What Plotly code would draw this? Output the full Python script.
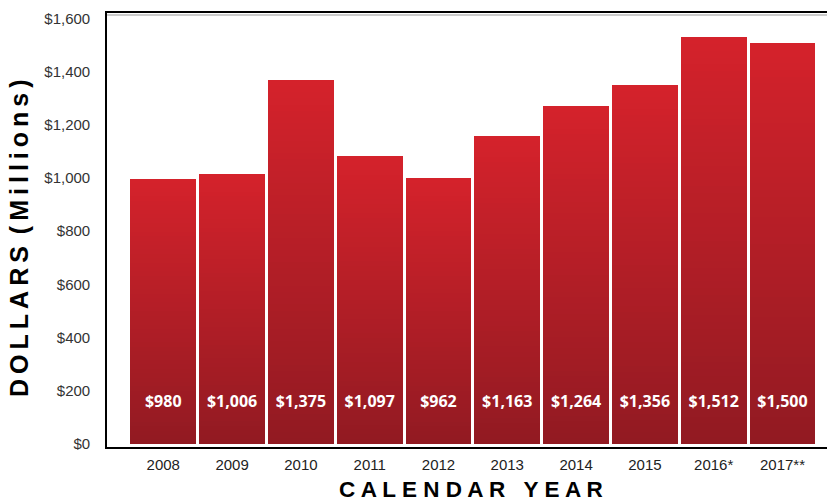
import plotly.graph_objects as go

years = ["2008", "2009", "2010", "2011", "2012", "2013", "2014", "2015", "2016*", "2017**"]
bar_heights = [997, 1016, 1367, 1084, 998, 1157, 1270, 1348, 1529, 1506]
value_labels = ["$980", "$1,006", "$1,375", "$1,097", "$962", "$1,163", "$1,264", "$1,356", "$1,512", "$1,500"]
y_tick_vals = [0, 200, 400, 600, 800, 1000, 1200, 1400, 1600]
y_tick_text = ["$0", "$200", "$400", "$600", "$800", "$1,000", "$1,200", "$1,400", "$1,600"]

TOP = (212, 34, 43)
BOTTOM = (146, 26, 34)
N = 60

x_idx = list(range(len(years)))
fig = go.Figure()
for k in range(N):
    t = k / (N - 1)  # 0 bottom -> 1 top
    c = tuple(round(BOTTOM[i] + (TOP[i] - BOTTOM[i]) * t) for i in range(3))
    fig.add_trace(go.Bar(
        x=x_idx, y=[h / N for h in bar_heights],
        marker=dict(color="rgb(%d,%d,%d)" % c, line=dict(width=0)),
        width=0.955, hoverinfo="skip", showlegend=False,
    ))

fig.add_trace(go.Scatter(
    x=x_idx, y=[152] * len(years), mode="text", text=value_labels,
    textfont=dict(family="Open Sans", size=16, color="white", weight="bold"),
    hoverinfo="skip", showlegend=False,
))

fig.update_layout(
    barmode="stack", bargap=0,
    width=827, height=504,
    margin=dict(l=107, r=0, t=13, b=57),
    paper_bgcolor="white", plot_bgcolor="white",
    xaxis=dict(
        range=[-0.818, 9.647], tickvals=x_idx, ticktext=years,
        showline=True, linecolor="black", linewidth=1.6, mirror=True,
        showgrid=False, zeroline=False, ticks="",
        tickfont=dict(family="Liberation Sans", size=15, color="#222"),
        ticklabelstandoff=3,
    ),
    yaxis=dict(
        range=[-12, 1620], tickvals=y_tick_vals, ticktext=y_tick_text,
        showline=True, linecolor="black", linewidth=1.6,
        showgrid=False, zeroline=False, ticks="",
        tickfont=dict(family="Liberation Sans", size=15, color="#333"),
        ticklabelstandoff=12,
    ),
    annotations=[
        dict(text="D\u2009O\u2009L\u2009L\u2009A\u2009R\u2009S\u2009 (\u2009M\u2009i\u2009l\u2009l\u2009i\u2009o\u2009n\u2009s\u2009)",
             xref="paper", yref="paper", x=0, y=0.4816, xshift=-88,
             xanchor="center", yanchor="middle", textangle=-90, showarrow=False,
             font=dict(family="Liberation Sans", size=25, color="black", weight="bold")),
        dict(text="C A L E N D A R   Y E A R",
             xref="paper", yref="paper", x=0.5058, y=-0.099,
             xanchor="center", yanchor="middle", showarrow=False,
             font=dict(family="Liberation Sans", size=22.5, color="black", weight="bold")),
    ],
    shapes=[
        dict(type="line", xref="paper", yref="paper", x0=0, x1=1,
             ysizemode="pixel", yanchor=1, y0=-2, y1=-2,
             line=dict(color="#bbbbbb", width=1.5), layer="below"),
    ],
)

fig.write_html("out.html", config={"displayModeBar": False},
               post_script="document.body.style.margin='0';document.body.style.overflow='hidden';")
